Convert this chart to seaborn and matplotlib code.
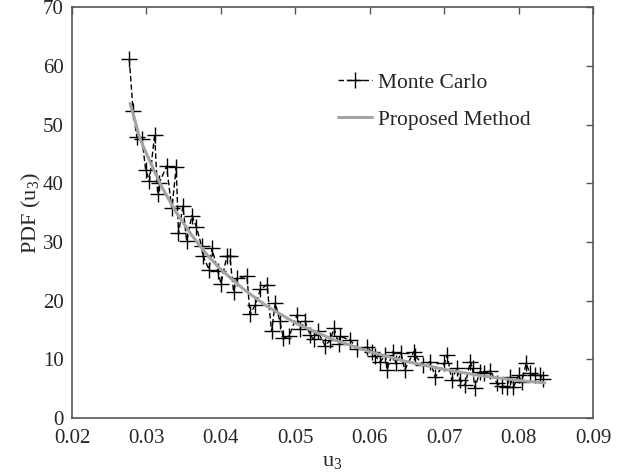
import matplotlib
matplotlib.use("Agg")
import matplotlib.pyplot as plt
import seaborn as sns
import pandas as pd

mc_x = [0.0277, 0.0282, 0.0287, 0.0294, 0.0299, 0.0304, 0.0311, 0.0315, 0.0317, 0.0327,
        0.0334, 0.0340, 0.0343, 0.0349, 0.0354, 0.0361, 0.0367, 0.0374, 0.0376, 0.0384,
        0.0388, 0.0396, 0.0400, 0.0408, 0.0412, 0.0417, 0.0421, 0.0435, 0.0439, 0.0446,
        0.0453, 0.0462, 0.0468, 0.0473, 0.0479, 0.0484, 0.0492, 0.0502, 0.0506, 0.0513,
        0.0520, 0.0525, 0.0530, 0.0540, 0.0547, 0.0552, 0.0558, 0.0560, 0.0574, 0.0583,
        0.0596, 0.0603, 0.0607, 0.0614, 0.0621, 0.0623, 0.0631, 0.0635, 0.0642, 0.0647,
        0.0659, 0.0661, 0.0672, 0.0681, 0.0688, 0.0700, 0.0704, 0.0710, 0.0717, 0.0721,
        0.0728, 0.0735, 0.0738, 0.0741, 0.0748, 0.0753, 0.0762, 0.0771, 0.0777, 0.0784,
        0.0788, 0.0793, 0.0800, 0.0804, 0.0810, 0.0815, 0.0822, 0.0828, 0.0833]
mc_y = [61.1, 52.3, 47.9, 47.5, 42.2, 40.4, 48.3, 38.2, 40.0, 42.9,
        35.7, 42.7, 31.5, 36.1, 30.1, 34.5, 32.6, 29.3, 27.6, 25.3,
        28.9, 25.0, 22.9, 27.6, 27.6, 21.5, 23.8, 24.2, 17.7, 19.2,
        21.9, 22.7, 14.8, 19.6, 16.6, 13.6, 14.0, 17.5, 15.2, 16.5,
        14.1, 13.4, 14.8, 12.3, 13.3, 15.3, 12.7, 13.9, 13.3, 11.7,
        12.1, 11.3, 10.6, 9.6, 10.7, 8.2, 11.3, 9.3, 11.0, 8.2,
        11.3, 10.6, 9.0, 9.6, 7.0, 9.3, 10.7, 6.5, 8.5, 6.5,
        5.6, 9.6, 8.5, 5.1, 7.9, 7.7, 8.0, 5.9, 5.5, 5.3,
        7.0, 5.3, 7.3, 6.2, 9.3, 7.6, 7.3, 7.3, 6.6]

pm_x = [0.0278, 0.0285, 0.029, 0.030, 0.032, 0.034, 0.036, 0.038, 0.040, 0.043,
        0.046, 0.050, 0.055, 0.060, 0.065, 0.070, 0.075, 0.080, 0.0835]
pm_y = [53.6, 50.5, 48.0, 45.0, 39.5, 35.0, 31.3, 28.0, 25.3, 22.0,
        19.2, 16.2, 13.4, 11.3, 9.6, 8.3, 7.2, 6.4, 6.0]

x_ticks = [0.02, 0.03, 0.04, 0.05, 0.06, 0.07, 0.08, 0.09]
x_ticklabels = ["0.02", "0.03", "0.04", "0.05", "0.06", "0.07", "0.08", "0.09"]
y_ticks = [0, 10, 20, 30, 40, 50, 60, 70]

sns.set_style("white")
plt.rcParams['font.family'] = ['Liberation Serif', 'DejaVu Serif']
plt.rcParams['mathtext.fontset'] = 'custom'
plt.rcParams['mathtext.rm'] = 'Liberation Serif'
plt.rcParams['mathtext.it'] = 'Liberation Serif'

mc = pd.DataFrame({"x": mc_x, "y": mc_y})
pm = pd.DataFrame({"x": pm_x, "y": pm_y})

fig = plt.figure(figsize=(6.29, 4.74), dpi=100)
ax = fig.add_axes([0.1145, 0.118, 0.8285, 0.867])

sns.lineplot(data=mc, x="x", y="y", ax=ax, color="black", linestyle=(0, (4, 2)),
             linewidth=1.0, marker="+", markersize=12, markeredgewidth=1.0,
             markeredgecolor="black", label="Monte Carlo", sort=True, estimator=None)
sns.lineplot(data=pm, x="x", y="y", ax=ax, color="#a3a3a3", linewidth=2.2,
             label="Proposed Method", sort=True, estimator=None)

ax.set_xlim(0.02, 0.09)
ax.set_ylim(0, 70)
ax.set_xticks(x_ticks)
ax.set_xticklabels(x_ticklabels)
ax.set_yticks(y_ticks)
ax.tick_params(direction="in", length=5, width=1, color="#555555",
               labelsize=15, top=True, right=True)
ax.tick_params(axis="x", pad=8)
ax.tick_params(axis="y", pad=6)
for s in ax.spines.values():
    s.set_color("#555555")
    s.set_linewidth(1.2)
ax.set_xlabel(r"u$_{\mathrm{3}}$", fontsize=16, labelpad=3)
ax.set_ylabel(r"PDF (u$_{\mathrm{3}}$)", fontsize=16, labelpad=0)

leg = ax.legend(loc="upper left", bbox_to_anchor=(0.493, 0.862), frameon=False,
                fontsize=15.5, handlelength=1.6, handletextpad=0.3, labelspacing=0.8,
                borderaxespad=0)

fig.savefig("out.png", dpi=100)
